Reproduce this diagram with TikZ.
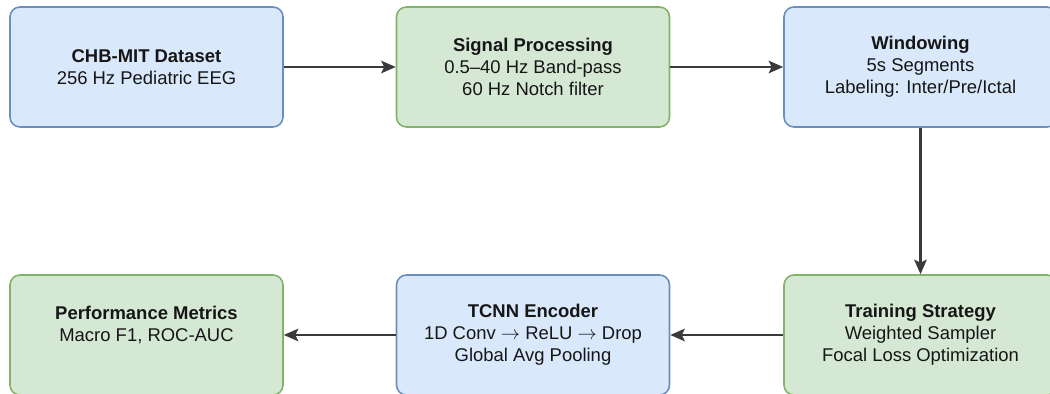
\documentclass[tikz,border=0pt]{standalone}
\usepackage{fontspec}
\setmainfont{Liberation Sans}
\usetikzlibrary{arrows.meta, positioning}

\definecolor{blueFill}{HTML}{DAE8FC}
\definecolor{blueLine}{HTML}{6C8EBF}
\definecolor{greenFill}{HTML}{D5E8D4}
\definecolor{greenLine}{HTML}{82B366}
\definecolor{arrowGray}{HTML}{3A3A3A}
\definecolor{textGray}{HTML}{161616}

\begin{document}
\begin{tikzpicture}[auto, >={Stealth[length=2.9mm, width=2.5mm, inset=0.6mm]}, node distance = 2 cm]
	\tikzstyle{stage} = [draw, rectangle, rounded corners=2mm, line width=0.9pt, minimum width=5.46cm, minimum height=2.4cm, align=center, text=textGray, font=\fontsize{10.5}{12.5}\selectfont]
	\tikzstyle{bluebox} = [fill=blueFill, draw=blueLine]
	\tikzstyle{greenbox} = [fill=greenFill, draw=greenLine]
	\tikzstyle{flow} = [->, line width=1.35pt, color=arrowGray]

	\useasboundingbox (0, 0) rectangle (21, 7.88);

	% top row
	\node[stage, bluebox] 	at (2.93, 6.54) 	(data) 	{\textbf{CHB-MIT Dataset}\\256 Hz Pediatric EEG};
	\node[stage, greenbox]	at (10.66, 6.54)	(sigproc)	{\textbf{Signal Processing}\\0.5–40 Hz Band-pass\\60 Hz Notch filter};
	\node[stage, bluebox] 	at (18.41, 6.54)	(window)	{\textbf{Windowing}\\5s Segments\\Labeling: Inter/Pre/Ictal};

	% bottom row
	\node[stage, greenbox]	at (18.41, 1.18)	(train)	{\textbf{Training Strategy}\\Weighted Sampler\\Focal Loss Optimization};
	\node[stage, bluebox] 	at (10.66, 1.18)	(tcnn)	{\textbf{TCNN Encoder}\\1D Conv $\rightarrow$ ReLU $\rightarrow$ Drop\\Global Avg Pooling};
	\node[stage, greenbox]	at (2.93, 1.18) 	(metrics)	{\textbf{Performance Metrics}\\Macro F1, ROC-AUC\\\mbox{}};

	\path[flow]
	(data)	edge	(sigproc)
	(sigproc)	edge	(window)
	(window)	edge	(train)
	(train)	edge	(tcnn)
	(tcnn)	edge	(metrics);
\end{tikzpicture}
\end{document}
